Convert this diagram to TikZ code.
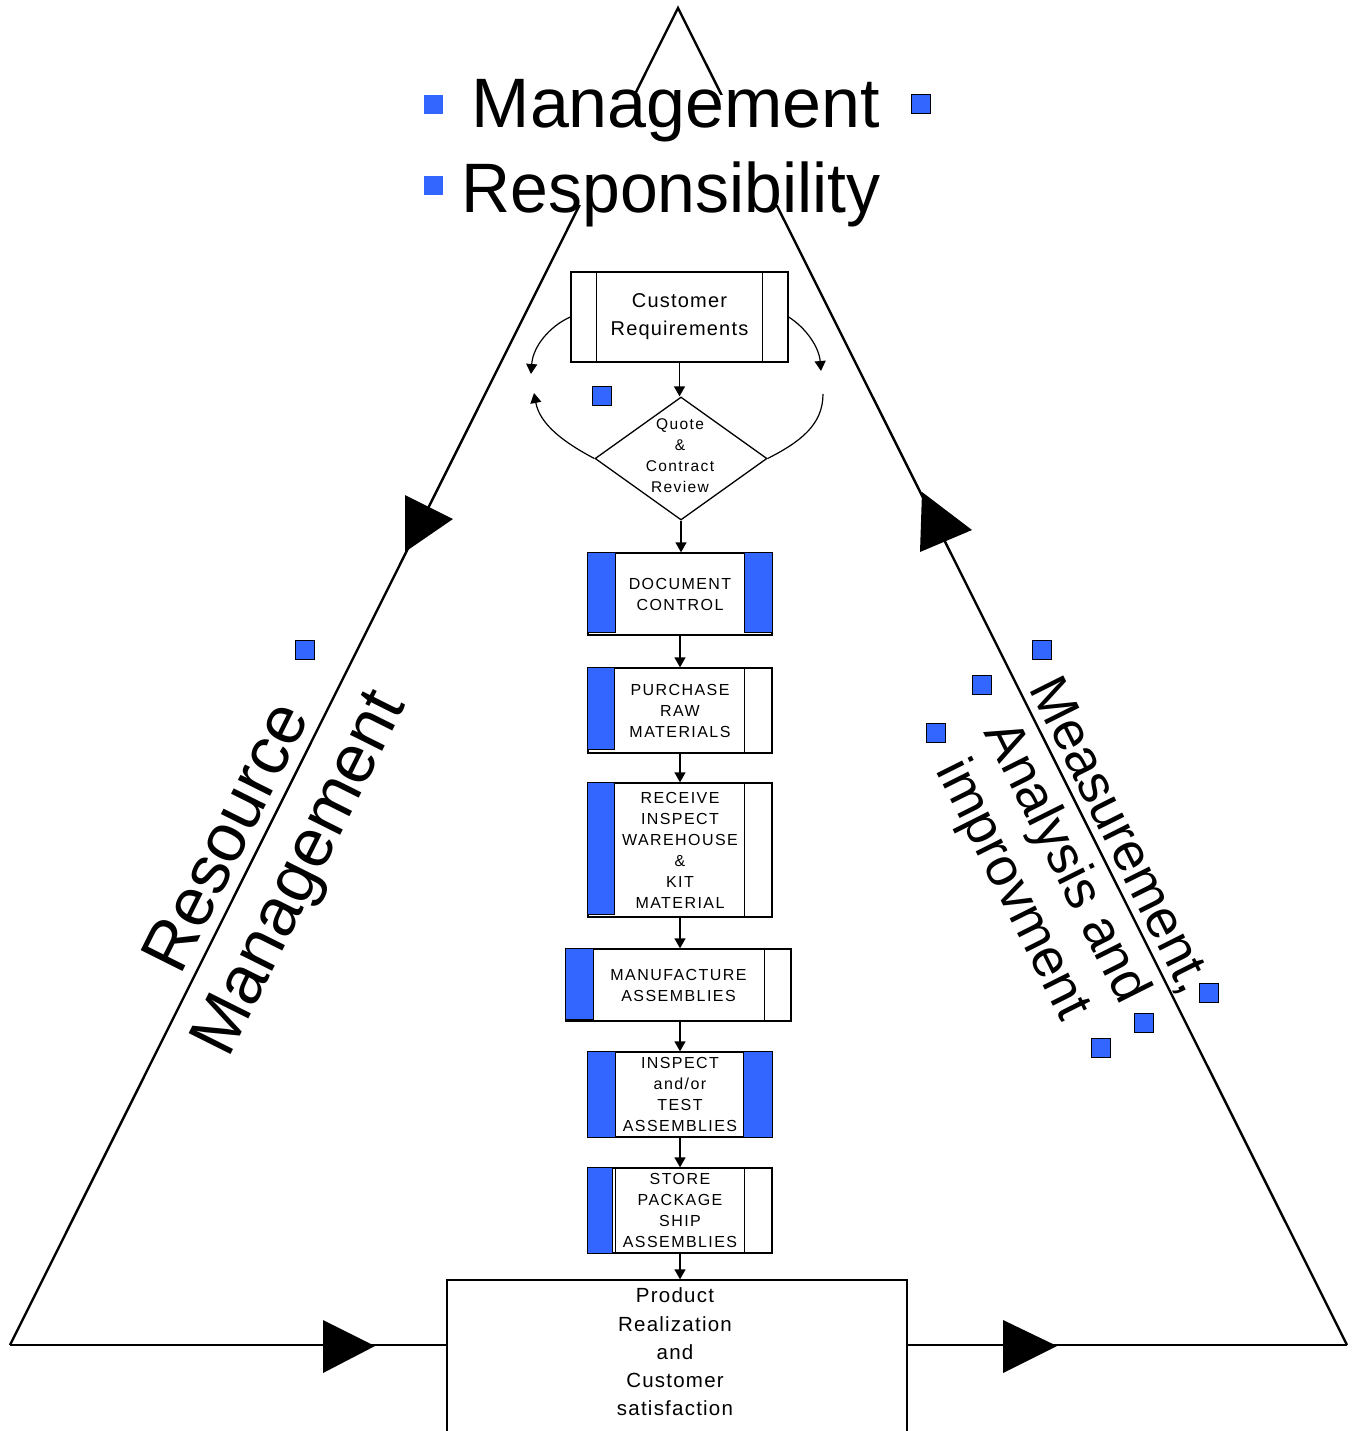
\documentclass[tikz,border=0pt]{standalone}
\usepackage{fontspec}
\usepackage{graphicx}
\setmainfont{Liberation Sans}
\newfontfamily\boxfont[LetterSpace=9]{Liberation Sans}
\newfontfamily\txtfont[LetterSpace=6]{Liberation Sans}
\usetikzlibrary{shapes.geometric,arrows.meta}
\definecolor{qblue}{RGB}{51,102,255}
\begin{document}
\begin{tikzpicture}[x=1pt,y=-1pt,
  tri/.style={line width=2.4pt, line join=miter},
  sqb/.style={fill=qblue, draw=black, line width=1.2pt, minimum size=19pt, inner sep=0pt},
  sqn/.style={fill=qblue, minimum size=19pt, inner sep=0pt},
  fbox/.style={draw, line width=1.3pt, inner sep=0pt, align=center, font=\boxfont\fontsize{16}{21}\selectfont},
  bar/.style={fill=qblue, draw=black, line width=1.3pt},
  thin/.style={line width=1.3pt},
  flow/.style={line width=1.3pt, -{Triangle[width=11pt,length=10pt]}},
  curv/.style={line width=1.2pt},
  curva/.style={line width=1.2pt, -{Triangle[width=11pt,length=10pt]}},
  ]
\useasboundingbox (0,0) rectangle (1356,1431);
\fill[white] (0,0) rectangle (1356,1431);

% ---- flow boxes ----
\node[draw, line width=1.3pt, minimum width=217pt, minimum height=90pt, inner sep=0pt, align=center,
      font=\txtfont\fontsize{20}{28}\selectfont] (cr) at (679.5,317) {Customer\\Requirements};
\node[diamond, draw, line width=1.3pt, minimum width=172pt, minimum height=123pt, inner sep=0pt] (qc) at (681,458.5) {};
\node[font=\boxfont\fontsize{15.5}{21}\selectfont, align=center] (qct) at (680,455.5) {Quote\\\&\\Contract\\Review};
\node[fbox, minimum width=184pt, minimum height=82pt] (dc) at (680,594) {DOCUMENT\\CONTROL};
\node[fbox, minimum width=184pt, minimum height=85pt] (pr) at (680,710.5) {PURCHASE\\RAW\\MATERIALS};
\node[fbox, minimum width=184pt, minimum height=134pt] (rc) at (680,850) {RECEIVE\\INSPECT\\WAREHOUSE\\\&\\KIT\\MATERIAL};
\node[fbox, minimum width=225pt, minimum height=72pt] (ma) at (678.5,985) {MANUFACTURE\\ASSEMBLIES};
\node[fbox, minimum width=184pt, minimum height=85pt] (it) at (680,1094.5) {INSPECT\\and/or\\TEST\\ASSEMBLIES};
\node[fbox, minimum width=184pt, minimum height=85pt] (sp) at (680,1210.5) {STORE\\PACKAGE\\SHIP\\ASSEMBLIES};
\node[draw, line width=1.3pt, minimum width=460pt, minimum height=170pt, inner sep=0pt] (pz) at (677,1365) {};
\node[font=\txtfont\fontsize{20.5}{28.3}\selectfont, align=center, anchor=north] (pzt) at ([xshift=-2pt,yshift=-5pt]pz.north) {Product\\Realization\\and\\Customer\\satisfaction};

% side bars and lines
\draw[thin] ([xshift=26pt]cr.north west) -- ([xshift=26pt]cr.south west);
\draw[thin] ([xshift=-26pt]cr.north east) -- ([xshift=-26pt]cr.south east);
\draw[bar] (dc.north west) rectangle ([xshift=28pt,yshift=3pt]dc.south west);
\draw[bar] ([xshift=-28pt]dc.north east) rectangle ([yshift=3pt]dc.south east);
\draw[bar] (pr.north west) rectangle ([xshift=27pt,yshift=4pt]pr.south west);
\draw[thin] ([xshift=-28pt]pr.north east) -- ([xshift=-28pt]pr.south east);
\draw[bar] (rc.north west) rectangle ([xshift=27pt,yshift=3pt]rc.south west);
\draw[thin] ([xshift=-28pt]rc.north east) -- ([xshift=-28pt]rc.south east);
\draw[bar] (ma.north west) rectangle ([xshift=28pt,yshift=2pt]ma.south west);
\draw[thin] ([xshift=-27pt]ma.north east) -- ([xshift=-27pt]ma.south east);
\draw[bar] (it.north west) rectangle ([xshift=28pt]it.south west);
\draw[bar] ([xshift=-29pt]it.north east) rectangle (it.south east);
\draw[bar] (sp.north west) rectangle ([xshift=25pt]sp.south west);
\draw[thin] ([xshift=28pt]sp.north west) -- ([xshift=28pt]sp.south west);
\draw[thin] ([xshift=-28pt]sp.north east) -- ([xshift=-28pt]sp.south east);

% flow arrows
\draw[flow] (cr.south) -- (cr.south |- qc.north);
\draw[flow] (qc.south) -- (qc.south |- dc.north);
\draw[flow] (dc.south) -- (dc.south |- pr.north);
\draw[flow] (pr.south) -- (pr.south |- rc.north);
\draw[flow] (rc.south) -- (rc.south |- ma.north);
\draw[flow] (rc.south |- ma.south) -- (rc.south |- it.north);
\draw[flow] (it.south) -- (it.south |- sp.north);
\draw[flow] (sp.south) -- (sp.south |- pz.north);

% curved loop arrows
\coordinate (lc1) at (531,374);
\coordinate (lc2) at (534,393);
\coordinate (rc1) at (821,371);
\coordinate (rc2) at (823,394);
\draw[curva] (cr.west) .. controls (550,326) and (533,346) .. (lc1);
\draw[curva] (qc.west) .. controls (565,443) and (540,425) .. (lc2);
\draw[curva] (cr.east) .. controls (806,328) and (819,347) .. (rc1);
\draw[curv] (qc.east) .. controls (800,442) and (823,425) .. (rc2);

% ---- big triangle ----
\coordinate (apex) at (678,8);
\coordinate (bl) at (10,1345);
\coordinate (br) at (1347,1345);
\draw[tri] (bl) -- (apex) -- (br);
\draw[tri] (bl) -- (pz.west |- bl);
\draw[tri] (pz.east |- br) -- (br);
\fill (405,495) -- (453,519) -- (405,552) -- cycle;
\fill (922,492) -- (972,530) -- (920,552) -- cycle;
\fill (323,1320) -- (375,1346) -- (323,1373) -- cycle;
\fill (1003,1320) -- (1057,1346) -- (1003,1373) -- cycle;

% ---- title ----
\fill[white] (460,95) rectangle (886,205);
\node[anchor=base, font=\fontsize{70}{80}\selectfont, inner sep=0pt] (t1) at (676,128) {Management};
\node[anchor=base, font=\fontsize{70}{80}\selectfont, inner sep=0pt] (t2) at (671,213) {\scalebox{0.97}[1]{Responsibility}};

% ---- side labels ----
\node[rotate=63.43, align=center, font=\fontsize{68}{80}\selectfont] (rm) at (267,857) {Resource\\Management};
\node[rotate=-63.43, align=center, font=\fontsize{54}{60}\selectfont] (mai) at (1064,864) {Measurement,\\Analysis and\\improvment};

% ---- blue squares ----
\node[sqn] (s1) at (433,105) {};
\node[sqn] (s2) at (433,186) {};
\node[sqb] (s3) at (921,104) {};
\node[sqb] (s4) at (602,396) {};
\node[sqb] (s5) at (305,650) {};
\node[sqb] (s6) at (1042,650) {};
\node[sqb] (s7) at (982,685) {};
\node[sqb] (s8) at (936,733) {};
\node[sqb] (s9) at (1209,993) {};
\node[sqb] (s10) at (1144,1023) {};
\node[sqb] (s11) at (1101,1048) {};
\end{tikzpicture}
\end{document}
